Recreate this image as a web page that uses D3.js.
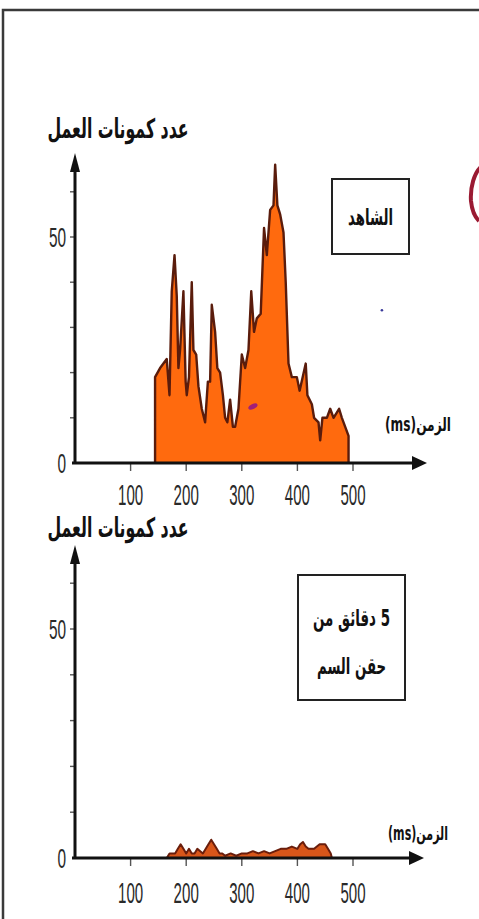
<!DOCTYPE html>
<html>
<head>
<meta charset="utf-8">
<script src="https://cdn.jsdelivr.net/npm/d3@7"></script>
<style>
  html, body { margin: 0; padding: 0; background: #fff; }
  svg { display: block; }
</style>
</head>
<body>
<script>
// ---- data ----
const xTicks = [100, 200, 300, 400, 500];
const yMinorTicks = [10, 20, 30, 40, 50, 60];
const yTickLabels = [0, 50];
const yTitle = "عدد كمونات العمل";
const xTitle = "الزمن(ms)";
const controlLabel = ["الشاهد"];
const poisonLabel = ["5 دقائق من", "حقن السم"];

// control recording: time (ms) vs number of action potentials
const controlTime = [144,144,153,165,170,174,179,183,186,189,195,199,201,205,210,213,218,222,228,234,
  239,243,246,252,256,261,266,270,274,279,284,288,294,300,306,312,317,322,327,334,
  340,345,351,357,360,364,369,375,379,384,390,399,404,415,418,426,430,438,441,445,
  453,459,465,475,480,486,492,492];
const controlCount = [0,19,21,23,15,38,46,37,21,25,38,18,15,19,40,25,24,17,12,9,
  18,18,35,29,21,20,15,10,9,14,8,8,12,24,21,25,38,29,32,33,
  52,46,56,57,66,57,55,51,40,22,19,19,16,22,15,13,10,9,5,10,
  10,12,10,12,10,8,6,0];

// 5 minutes after venom injection
const poisonTime = [165,170,180,185,190,195,200,205,210,215,220,230,240,245,250,255,260,265,270,280,
  290,300,310,320,330,340,350,360,370,380,390,400,405,410,415,420,430,440,445,450,455,460,462];
const poisonCount = [0,1,1,2,3,2,1,2,1,1,2,1,3,4,3,2,1,1,0.5,1,
  0.5,1,1,1.5,1,1.5,1,1.5,2,2,2.5,2,3,3.5,2.5,2,2,3,3,3,2,1,0];

// ---- drawing ----
const W = 479, H = 919;
const svg = d3.select("body").append("svg").attr("width", W).attr("height", H);

// outer frame (left and top edges)
svg.append("path").attr("d", "M3,919V10H479")
  .attr("fill", "none").attr("stroke", "#3a3a3a").attr("stroke-width", 2.5);

const numFont = "'Liberation Sans', Arial, sans-serif";
const arFont = "'DejaVu Sans', 'Noto Sans', sans-serif";

function squeezed(parent, x, y, str, size, sx, anchor) {
  parent.append("g").attr("transform", `translate(${x},${y}) scale(${sx},1)`)
    .append("text").attr("text-anchor", anchor || "middle")
    .attr("font-family", numFont).attr("font-size", size).attr("fill", "#2a2a2a")
    .text(str);
}
// Arabic labels: bold, fitted to a width and stretched vertically
function arabic(parent, cx, y, str, size, width, sy) {
  parent.append("g").attr("transform", `translate(${cx},${y}) scale(1,${sy || 1.3})`)
    .append("text")
    .attr("text-anchor", "middle").attr("direction", "rtl")
    .attr("font-family", arFont).attr("font-weight", "bold")
    .attr("font-size", size).attr("fill", "#111")
    .attr("textLength", width).attr("lengthAdjust", "spacingAndGlyphs")
    .text(str);
}

function panel(cfg) {
  const g = svg.append("g");
  const x = d3.scaleLinear().domain([0, 500]).range([75, 353]);
  const y = d3.scaleLinear().domain([0, 50]).range([cfg.y0, cfg.y50]);

  // data area
  const pts = cfg.time.map((t, i) => [t, cfg.count[i]]);
  const area = d3.area().x(d => x(d[0])).y0(y(0)).y1(d => y(d[1]));
  const line = d3.line().x(d => x(d[0])).y(d => y(d[1]));
  g.append("path").attr("d", area(pts)).attr("fill", cfg.fill);
  g.append("path").attr("d", line(pts)).attr("fill", "none")
    .attr("stroke", cfg.stroke).attr("stroke-width", cfg.sw).attr("stroke-linejoin", "round");

  // x ticks below the axis
  g.selectAll(".xt").data(xTicks).join("line")
    .attr("x1", d => x(d)).attr("x2", d => x(d))
    .attr("y1", y(0)).attr("y2", y(0) + 8)
    .attr("stroke", "#555").attr("stroke-width", 1.4);
  xTicks.forEach(d => squeezed(g, x(d), cfg.xLabelY, d, 29, 0.52));

  // y minor ticks on the left
  g.selectAll(".yt").data(yMinorTicks).join("line")
    .attr("x1", x(0) - 5).attr("x2", x(0))
    .attr("y1", d => y(d)).attr("y2", d => y(d))
    .attr("stroke", "#555").attr("stroke-width", 1.4);
  yTickLabels.forEach(d => squeezed(g, 66, y(d) + 10, d, 28, 0.55, "end"));

  // axes with arrowheads
  g.append("line").attr("x1", x(0) - 3).attr("x2", cfg.xTip - 10)
    .attr("y1", y(0)).attr("y2", y(0)).attr("stroke", "#111").attr("stroke-width", 3);
  g.append("path").attr("d", `M${cfg.xTip},${y(0)}L${cfg.xTip - 15},${y(0) - 7}L${cfg.xTip - 15},${y(0) + 7}Z`)
    .attr("fill", "#111");
  g.append("line").attr("x1", x(0)).attr("x2", x(0))
    .attr("y1", y(0) + 1).attr("y2", cfg.yTip + 10).attr("stroke", "#111").attr("stroke-width", 3);
  g.append("path").attr("d", `M${x(0)},${cfg.yTip}L${x(0) - 5},${cfg.yTip + 19}L${x(0) + 5},${cfg.yTip + 19}Z`)
    .attr("fill", "#111");

  // axis titles
  arabic(g, 118, cfg.yTitleY, yTitle, 20, 141, 1.35);
  arabic(g, 418, cfg.xTitleY, xTitle, 14, cfg.xTitleW, 1.35);

  // legend box
  const b = cfg.box;
  g.append("rect").attr("x", b[0]).attr("y", b[1]).attr("width", b[2]).attr("height", b[3])
    .attr("fill", "#fff").attr("stroke", "#222").attr("stroke-width", 2);
  cfg.label.forEach((s, i) => arabic(g, b[0] + b[2] / 2, cfg.labelY[i], s, 17, cfg.labelW[i], 1.35));
  return { x, y, g };
}

const upperPanel = panel({
  time: controlTime, count: controlCount,
  y0: 463, y50: 237, yTip: 153, xTip: 427,
  fill: "#ff6a0e", stroke: "#5a1c0c", sw: 2.4,
  xLabelY: 505, yTitleY: 138, xTitleY: 431, xTitleW: 66,
  box: [332, 179, 77, 75], label: controlLabel, labelY: [225], labelW: [45]
});

const lowerPanel = panel({
  time: poisonTime, count: poisonCount,
  y0: 858, y50: 629, yTip: 545, xTip: 424,
  fill: "#d8561a", stroke: "#6a1e0c", sw: 2,
  xLabelY: 903, yTitleY: 537, xTitleY: 840, xTitleW: 60,
  box: [298, 575, 107, 125], label: poisonLabel, labelY: [626, 674], labelW: [77, 69]
});

// small pen marks on the upper panel
const up = upperPanel;
up.g.append("ellipse").attr("cx", up.x(320)).attr("cy", up.y(12.5))
  .attr("rx", 5).attr("ry", 2.5).attr("transform", `rotate(-25 ${up.x(320)} ${up.y(12.5)})`)
  .attr("fill", "#a0207a");
up.g.append("circle").attr("cx", up.x(552)).attr("cy", up.y(33.8)).attr("r", 1.3).attr("fill", "#3a3a9a");
svg.append("path").attr("d", "M482,166C474,172 470,188 471,201C472,211 475,217 479,221")
  .attr("fill", "none").attr("stroke", "#9a1a32").attr("stroke-width", 4);
</script>
</body>
</html>
